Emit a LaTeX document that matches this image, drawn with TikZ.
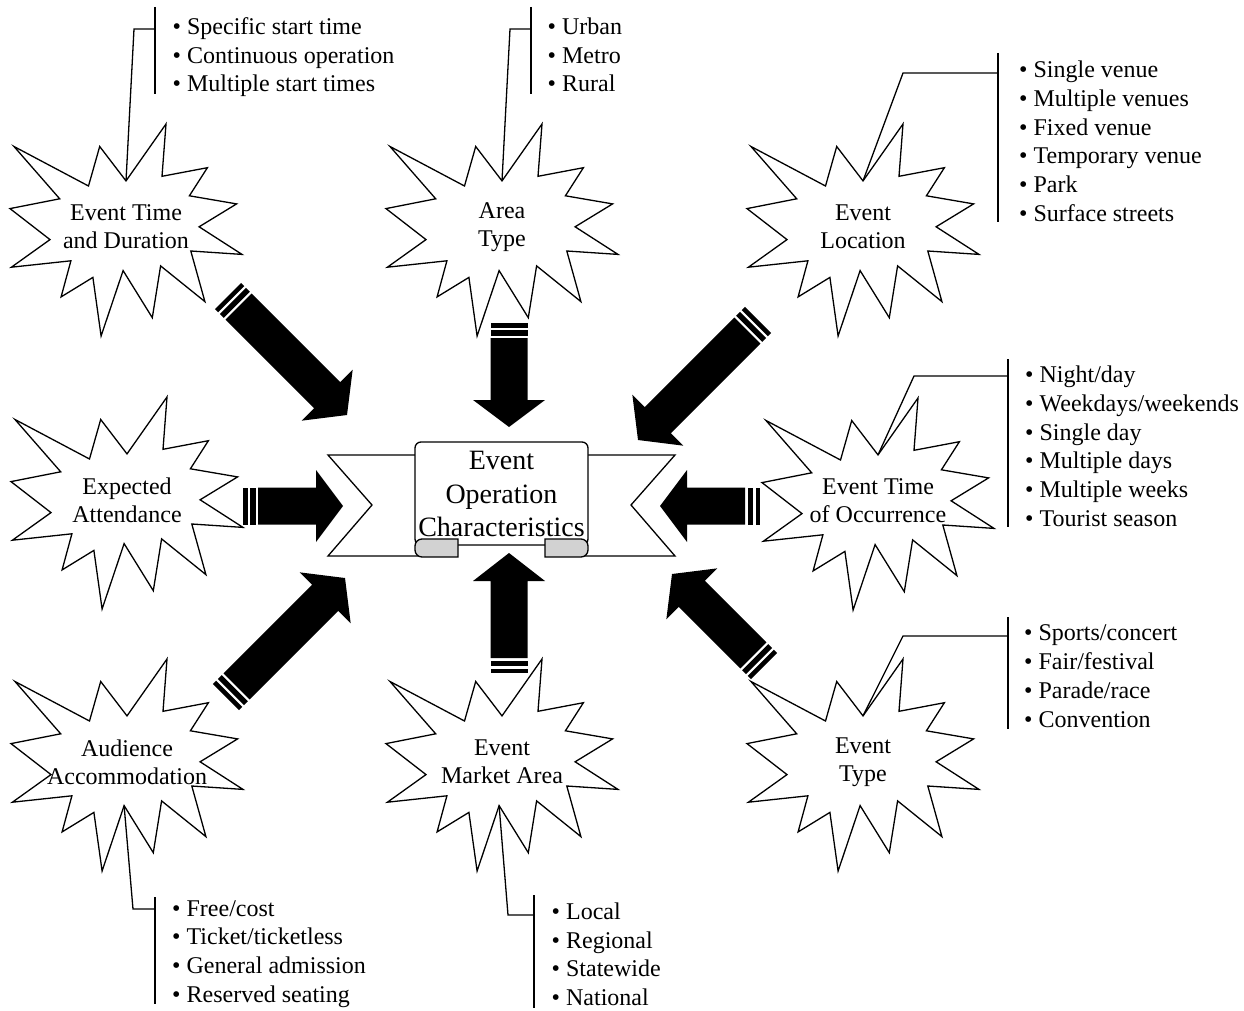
\documentclass[tikz,border=0pt]{standalone}
\usepackage{fontspec}
\setmainfont{Liberation Serif}
\usetikzlibrary{calc}

\newcommand{\bul}{\strut\textbullet\ }

% striped block arrow: tail, tip, head length
\newcommand{\stripedarrow}[3]{%
  \fill[arrowfill]
    ($(#1)!15pt!(#2)!18.5pt!90:(#2)$) --
    ($(#2)!#3!(#1)!18.5pt!270:(#1)$) --
    ($(#2)!#3!(#1)!36pt!270:(#1)$) --
    (#2) --
    ($(#2)!#3!(#1)!36pt!90:(#1)$) --
    ($(#2)!#3!(#1)!18.5pt!90:(#1)$) --
    ($(#1)!15pt!(#2)!18.5pt!270:(#2)$) -- cycle;
  \foreach \sa/\sb in {0pt/4.5pt, 7pt/12.5pt}
    \fill[arrowfill]
      ($(#1)!\sa!(#2)!18.5pt!90:(#2)$) --
      ($(#1)!\sb!(#2)!18.5pt!90:(#2)$) --
      ($(#1)!\sb!(#2)!18.5pt!270:(#2)$) --
      ($(#1)!\sa!(#2)!18.5pt!270:(#2)$) -- cycle;
}

\begin{document}
\begin{tikzpicture}[
    x=1pt, y=-1pt,
    burstline/.style={draw=black, line width=1.3pt, fill=white},
    burstlabel/.style={font=\fontsize{24}{28}\selectfont, align=center, inner sep=0pt},
    bullets/.style={font=\fontsize{24}{28.7}\selectfont, align=left, inner sep=0pt, anchor=west},
    callout/.style={draw=black, line width=1.3pt},
    arrowfill/.style={fill=black},
    ribbon/.style={draw=black, line width=1.3pt, fill=white},
    curl/.style={draw=black, line width=1.3pt, fill=gray!35},
    titletext/.style={font=\fontsize{28}{33.5}\selectfont, align=center, inner sep=0pt},
    burst/.pic={
        \draw[burstline] (0,-46.1) -- (40,-103) -- (36,-50.7) -- (81.4,-59.3)
            -- (63.4,-31.2) -- (110.6,-23.1) -- (73.1,-0.2) -- (116,27.4)
            -- (64.8,24) -- (78.9,74.6) -- (34.6,38.9) -- (26.3,90.7)
            -- (-2.9,43.6) -- (-24.9,109) -- (-33.1,50.4) -- (-64.9,69.9)
            -- (-55.1,33.8) -- (-114.6,40.2) -- (-76,12.6) -- (-116,-18.4)
            -- (-66.3,-28.2) -- (-112,-80.5) -- (-37.5,-41) -- (-26.3,-80.5) -- cycle;
        \coordinate (-top) at (0,-46.1);
        \coordinate (-bot) at (-2.9,43.6);
        \node[burstlabel] (-text) at (0,0) {#1};
    }
]
\useasboundingbox (0,0) rectangle (1244,1011);

% Explosions
\pic (dur)  at (126,227) {burst={Event Time\\and Duration}};
\pic (area) at (502,227) {burst={Area\\Type}};
\pic (loc)  at (863,227) {burst={Event\\Location}};
\pic (att)  at (127,500) {burst={Expected\\Attendance}};
\pic (occ)  at (878,501) {burst={Event Time\\of Occurrence}};
\pic (acc)  at (127,762) {burst={Audience\\Accommodation}};
\pic (mkt)  at (502,762) {burst={Event\\Market Area}};
\pic (type) at (863,762) {burst={Event\\Type}};

% Central ribbon
\filldraw[ribbon] (328,455) -- (420,455) -- (420,556) -- (328,556) -- (372,505) -- cycle;
\filldraw[ribbon] (675,455) -- (583,455) -- (583,556) -- (675,556) -- (631,505) -- cycle;
\filldraw[ribbon, rounded corners=6] (415,545) -- (415,442) -- (588,442) -- (588,545) -- cycle;
\filldraw[curl] (458,539) [rounded corners=7] -- (415,539) -- (415,557) [sharp corners] -- (458,557) -- cycle;
\filldraw[curl] (545,539) [rounded corners=7] -- (588,539) -- (588,557) [sharp corners] -- (545,557) -- cycle;
\node[titletext] (core) at (501.5,494) {Event\\Operation\\Characteristics};

% Arrows towards the ribbon
\coordinate (nwtail) at (228,296);  \coordinate (nwtip) at (347,415);
\coordinate (ntail)  at (509,323);  \coordinate (ntip)  at (509,427);
\coordinate (netail) at (758,320);  \coordinate (netip) at (638,440);
\coordinate (wtail)  at (243,506);  \coordinate (wtip)  at (343,506);
\coordinate (etail)  at (760,506);  \coordinate (etip)  at (660,506);
\coordinate (swtail) at (226,697);  \coordinate (swtip) at (345,578);
\coordinate (stail)  at (509,673);  \coordinate (stip)  at (509,553);
\coordinate (setail) at (764,666);  \coordinate (setip) at (672,574);

\stripedarrow{nwtail}{nwtip}{28pt}
\stripedarrow{ntail}{ntip}{27pt}
\stripedarrow{netail}{netip}{28pt}
\stripedarrow{wtail}{wtip}{27pt}
\stripedarrow{etail}{etip}{27pt}
\stripedarrow{swtail}{swtip}{28pt}
\stripedarrow{stail}{stip}{28pt}
\stripedarrow{setail}{setip}{28pt}

% Lists
\node[bullets] (durlist)  at (172.5,57.3) {\bul Specific start time\\\bul Continuous operation\\\bul Multiple start times};
\node[bullets] (arealist) at (547.5,57.3) {\bul Urban\\\bul Metro\\\bul Rural};
\node[bullets] (loclist)  at (1019,143.8) {\bul Single venue\\\bul Multiple venues\\\bul Fixed venue\\\bul Temporary venue\\\bul Park\\\bul Surface streets};
\node[bullets] (occlist)  at (1025,448.8) {\bul Night/day\\\bul Weekdays/weekends\\\bul Single day\\\bul Multiple days\\\bul Multiple weeks\\\bul Tourist season};
\node[bullets] (typelist) at (1024,678.3) {\bul Sports/concert\\\bul Fair/festival\\\bul Parade/race\\\bul Convention};
\node[bullets] (acclist)  at (172,953.3) {\bul Free/cost\\\bul Ticket/ticketless\\\bul General admission\\\bul Reserved seating};
\node[bullets] (mktlist)  at (551.5,956.8) {\bul Local\\\bul Regional\\\bul Statewide\\\bul National};

% Callouts
\coordinate (durknee)  at (134,29);   \coordinate (durbar)  at (155,29);
\coordinate (areaknee) at (510,29);   \coordinate (areabar) at (531,29);
\coordinate (locknee)  at (903,73);   \coordinate (locbar)  at (998,73);
\coordinate (occknee)  at (914,376);  \coordinate (occbar)  at (1008,376);
\coordinate (typeknee) at (903,636);  \coordinate (typebar) at (1008,636);
\coordinate (accknee)  at (133,909);  \coordinate (accbar)  at (155,909);
\coordinate (mktknee)  at (508,915);  \coordinate (mktbar)  at (534,915);

\draw[callout] (dur-top) -- (durknee) -- (durbar);
\draw[callout] (area-top) -- (areaknee) -- (areabar);
\draw[callout] (loc-top) -- (locknee) -- (locbar);
\draw[callout] (occ-top) -- (occknee) -- (occbar);
\draw[callout] (type-top) -- (typeknee) -- (typebar);
\draw[callout] (acc-bot) -- (accknee) -- (accbar);
\draw[callout] (mkt-bot) -- (mktknee) -- (mktbar);

\draw[callout] (155,7) -- (155,94);
\draw[callout] (531,7) -- (531,94);
\draw[callout] (998,53) -- (998,222);
\draw[callout] (1008,359) -- (1008,527);
\draw[callout] (1008,617) -- (1008,729);
\draw[callout] (155,897) -- (155,1004);
\draw[callout] (534,895) -- (534,1008);

\end{tikzpicture}
\end{document}
